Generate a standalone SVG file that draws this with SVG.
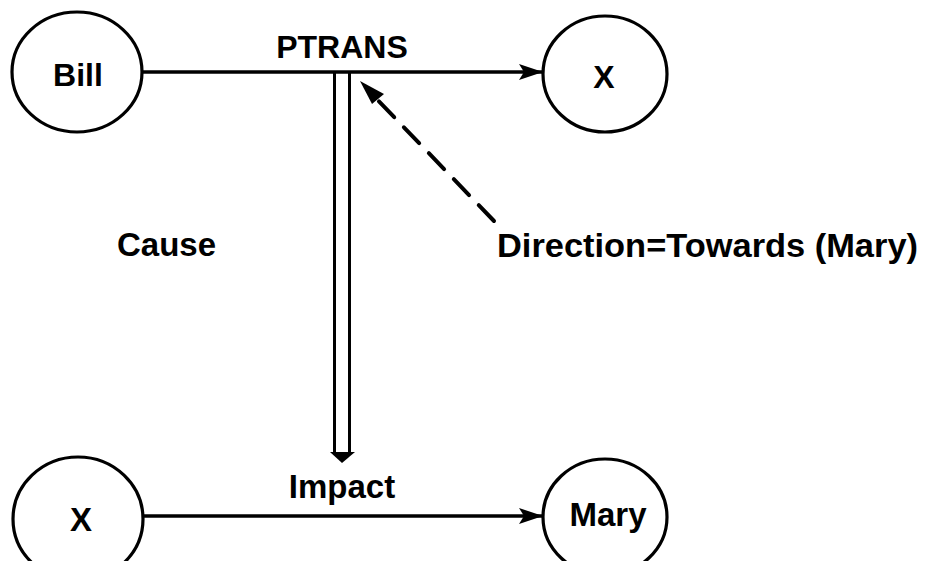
<svg xmlns="http://www.w3.org/2000/svg" width="927" height="561" viewBox="0 0 927 561">
<style>
.n{fill:none;stroke:#000;stroke-width:3.2}
.t{font-family:"Liberation Sans",Arial,sans-serif;font-weight:bold;fill:#000}
.c{fill:none;stroke:#000;stroke-width:3.4}
</style>
<defs>
<marker id="ah2" viewBox="0 0 24 16" refX="24" refY="8" markerWidth="24" markerHeight="16" markerUnits="userSpaceOnUse" orient="auto">
<path d="M0,0 L24,8 L0,16 L5,8 z" fill="#000"/>
</marker>
</defs>
<rect width="927" height="561" fill="#fff"/>
<g id="connectors">
<line class="c" x1="143" y1="72" x2="543" y2="72" marker-end="url(#ah2)"/>
<line class="c" x1="143" y1="516" x2="543" y2="516" marker-end="url(#ah2)"/>
<line x1="334.5" y1="72" x2="334.5" y2="454" stroke="#000" stroke-width="3"/>
<line x1="349.5" y1="72" x2="349.5" y2="454" stroke="#000" stroke-width="3"/>
<polygon points="330,452 355,452 342,463" fill="#000"/>
<line x1="494" y1="221" x2="370" y2="92" stroke="#000" stroke-width="4" stroke-dasharray="22,14" stroke-linecap="round"/>
<path d="M360,81 L384,94 L372,104 z" fill="#000"/>
<text class="t" x="342" y="58" font-size="32" text-anchor="middle">PTRANS</text>
<text class="t" x="342" y="498" font-size="33" text-anchor="middle">Impact</text>
</g>
<g id="bill">
<ellipse class="n" cx="77" cy="72" rx="65" ry="60"/>
<text class="t" x="78" y="86" font-size="32" text-anchor="middle">Bill</text>
</g>
<g id="x-top">
<ellipse class="n" cx="605" cy="74" rx="62" ry="58"/>
<text class="t" x="604" y="88" font-size="32" text-anchor="middle">X</text>
</g>
<g id="x-bottom">
<ellipse class="n" cx="78" cy="519" rx="65" ry="62"/>
<text class="t" x="81" y="531" font-size="33" text-anchor="middle">X</text>
</g>
<g id="mary">
<ellipse class="n" cx="605" cy="517" rx="62" ry="58"/>
<text class="t" x="608" y="526" font-size="33" text-anchor="middle">Mary</text>
</g>
<g id="cause">
<text class="t" x="117" y="256" font-size="33">Cause</text>
</g>
<g id="direction">
<text class="t" x="497" y="257" font-size="33" textLength="421" lengthAdjust="spacingAndGlyphs">Direction=Towards (Mary)</text>
</g>
</svg>
